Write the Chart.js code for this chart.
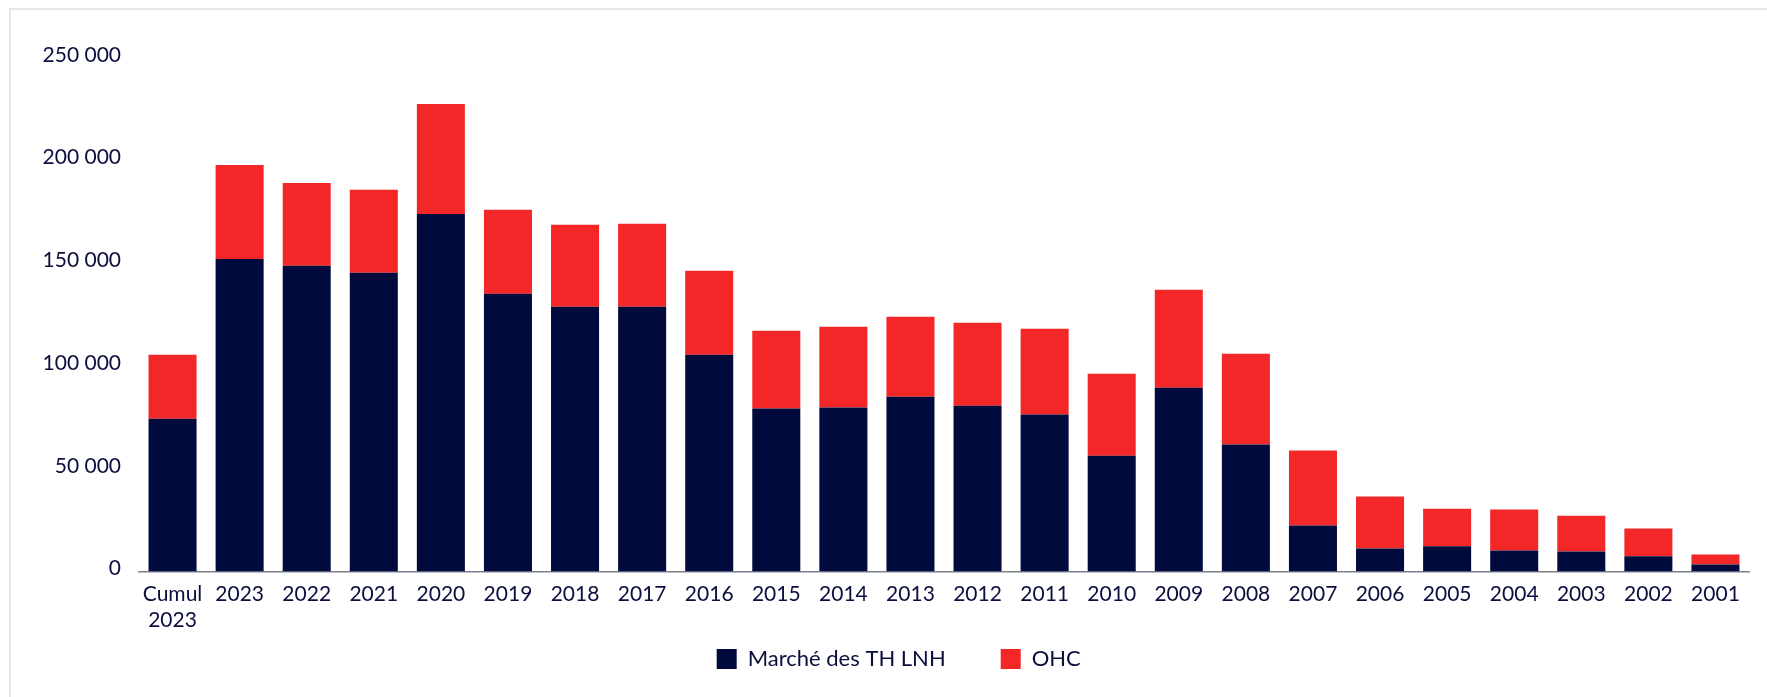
<!DOCTYPE html>
<html>
<head>
<meta charset="utf-8">
<script src="https://cdn.jsdelivr.net/npm/chart.js@4.4.1/dist/chart.umd.min.js"></script>
<style>
  html, body { margin: 0; padding: 0; background: #ffffff; overflow: hidden; width: 1767px; height: 697px; }
  #frame { position: absolute; left: 9px; top: 8px; width: 1800px; height: 800px;
           border-left: 2px solid #e3e6ea; border-top: 2px solid #e3e6ea; }
  #wrap { position: absolute; left: 11px; top: 10px; width: 1776px; height: 670px; }
</style>
</head>
<body>
<div id="frame"></div>
<div id="wrap"><canvas id="c"></canvas></div>
<script>
const categories = [['Cumul', '2023'], '2023', '2022', '2021', '2020', '2019', '2018', '2017', '2016', '2015', '2014', '2013', '2012', '2011', '2010', '2009', '2008', '2007', '2006', '2005', '2004', '2003', '2002', '2001'];
const marcheTH = [74400, 152200, 148800, 145400, 174100, 135200, 128900, 128900, 105500, 79300, 79800, 85100, 80700, 76400, 56400, 89500, 61800, 22400, 11200, 12300, 10200, 9700, 7400, 3400];
const ohc = [31100, 45700, 40400, 40400, 53500, 40900, 39900, 40400, 40900, 37900, 39400, 38900, 40400, 41800, 39900, 47700, 44200, 36500, 25300, 18300, 20000, 17500, 13500, 4900];
const seriesNames = ['Marché des TH LNH', 'OHC'];
const yTickValues = [0, 50000, 100000, 150000, 200000, 250000];

const NAVY = '#000A3C';
const RED = '#F32727';
const TEXT = '#0B0F3D';
const FONT = 'Lato, "Open Sans", sans-serif';

function fmt(v) { return String(v).replace(/\B(?=(\d{3})+(?!\d))/g, ' '); }

// Give the axis labels room outside their (deliberately tight) layout boxes,
// so the legend and plot sit where they do in the reference.
const labelRoom = {
  id: 'labelRoom',
  afterLayout(chart) {
    const x = chart.scales.x;
    x.bottom = x.top + 80;
    chart.scales.y.left = 0;
  }
};

new Chart(document.getElementById('c'), {
  type: 'bar',
  data: {
    labels: categories,
    datasets: [
      { label: seriesNames[0], data: marcheTH, backgroundColor: NAVY, borderWidth: 0 },
      { label: seriesNames[1], data: ohc, backgroundColor: RED, borderWidth: 0 }
    ]
  },
  plugins: [labelRoom],
  options: {
    responsive: true,
    maintainAspectRatio: false,
    animation: false,
    layout: { padding: { left: 37.5, right: 38, top: 48, bottom: 0 } },
    datasets: { bar: { categoryPercentage: 1.0, barPercentage: 0.716 } },
    plugins: {
      legend: {
        position: 'bottom',
        labels: {
          boxWidth: 20, boxHeight: 20, padding: 55,
          color: TEXT,
          font: { family: FONT, size: 22 }
        }
      },
      tooltip: { enabled: false }
    },
    scales: {
      x: {
        stacked: true,
        grid: { display: false, drawTicks: false },
        border: { display: true, color: '#7d8090', width: 1.5 },
        ticks: { color: TEXT, font: { family: FONT, size: 21, lineHeight: 1.24 }, padding: 10, maxRotation: 0, autoSkip: false },
        afterFit: (s) => { s.height = 21.5; }
      },
      y: {
        stacked: true,
        min: 0, max: 250000,
        grid: { display: false, drawTicks: false },
        border: { display: false },
        afterBuildTicks: (s) => { s.ticks = yTickValues.map(v => ({ value: v })); },
        ticks: { color: TEXT, font: { family: FONT, size: 21 }, padding: 18, labelOffset: -3, callback: (v) => fmt(v) },
        afterFit: (s) => { s.width = 90.5; }
      }
    }
  }
});
</script>
</body>
</html>
